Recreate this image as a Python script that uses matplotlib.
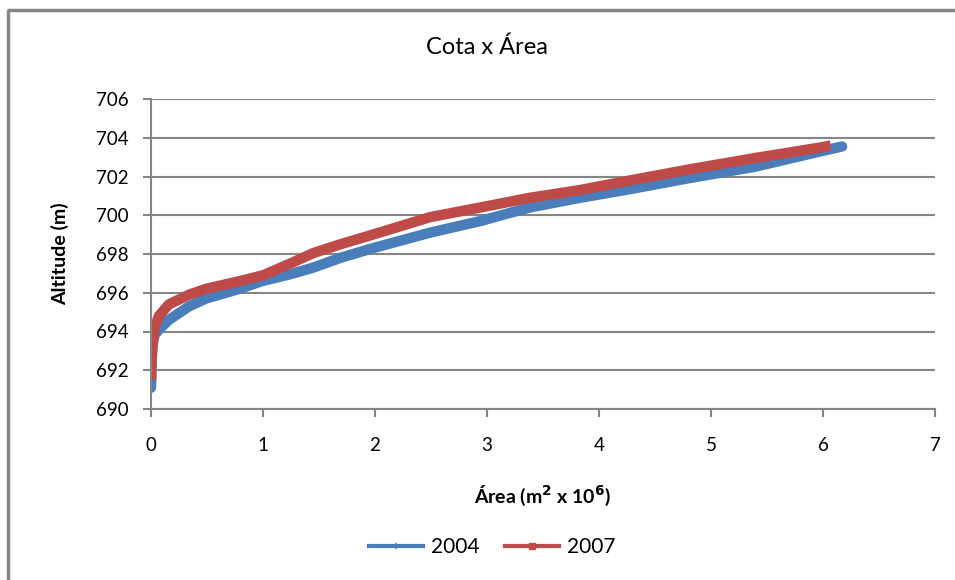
import matplotlib.pyplot as plt
from matplotlib.lines import Line2D

# area (m2 x 10^6) vs altitude (m), surveys of 2004 and 2007
area_2004 = [0, 0.005, 0.01, 0.03, 0.07, 0.16, 0.34, 0.49, 0.79, 0.99, 1.24, 1.45,
             1.69, 1.98, 2.49, 2.94, 3.38, 3.83, 4.28, 4.79, 5.39, 5.98, 6.17]
alt_2004 = [691.1, 692.2, 693.2, 693.8, 694.1, 694.6, 695.3, 695.7, 696.2, 696.6, 696.95, 697.3,
            697.8, 698.3, 699.1, 699.7, 700.4, 700.9, 701.35, 701.9, 702.5, 703.3, 703.55]
area_2007 = [0, 0.005, 0.015, 0.03, 0.07, 0.16, 0.34, 0.49, 0.79, 1.0, 1.24, 1.45,
             1.69, 1.98, 2.49, 2.94, 3.38, 3.83, 4.28, 4.79, 5.39, 5.98, 6.07]
alt_2007 = [691.5, 692.5, 693.3, 694.1, 694.8, 695.4, 695.9, 696.2, 696.6, 696.9, 697.5, 698.05,
            698.5, 699.0, 699.9, 700.4, 700.9, 701.3, 701.8, 702.35, 702.95, 703.5, 703.6]
xticks = list(range(0, 8))
yticks = list(range(690, 707, 2))

blue = '#4A7EBB'
red = '#BE4B48'
grey = '#868686'

plt.rcParams['font.family'] = ['Lato', 'DejaVu Sans']

fig = plt.figure(figsize=(9.55, 5.8), dpi=100)
ax = fig.add_axes([151 / 955, 1 - 409 / 580, (935 - 151) / 955, (409 - 99) / 580])

ax.plot(area_2004, alt_2004, color=blue, lw=7.5, solid_capstyle='round')
ax.plot(area_2007, alt_2007, color=red, lw=7.5, solid_capstyle='butt')

ax.set_xlim(0, 7)
ax.set_ylim(690, 706)
ax.set_xticks(xticks)
ax.set_yticks(yticks)
ax.grid(axis='y', color=grey, lw=1.5)
ax.set_axisbelow(True)
for s in ['top', 'right']:
    ax.spines[s].set_visible(False)
for s in ['left', 'bottom']:
    ax.spines[s].set_color(grey)
    ax.spines[s].set_linewidth(1.5)
ax.tick_params(axis='both', colors=grey, labelcolor='black', labelsize=13.5,
               width=1.5, length=6)
ax.tick_params(axis='x', pad=14)
ax.tick_params(axis='y', pad=10)

fig.text(487 / 955, 1 - 47 / 580, 'Cota x Área', ha='center', va='center', fontsize=17)
fig.text(60 / 955, 1 - 254 / 580, 'Altitude (m)', ha='center', va='center',
         rotation=90, fontsize=14, fontweight='bold')
fig.text(543 / 955, 1 - 496 / 580, 'Área (m$^\\mathbf{2}$ x 10$^\\mathbf{6}$)',
         ha='center', va='center', fontsize=14, fontweight='bold')

handles = [Line2D([], [], color=blue, lw=3, marker='+', ms=4, mew=1.2),
           Line2D([], [], color=red, lw=3, marker='s', ms=5)]
fig.legend(handles, ['2004', '2007'], loc='center', bbox_to_anchor=(492 / 955, 1 - 547 / 580),
           ncol=2, frameon=False, fontsize=15, handlelength=2.6, handletextpad=0.4,
           columnspacing=1.2)

# outer chart border: only the left and top edges fall inside the image
x0, y0 = 8 / 955, 1 - 10 / 580
fig.add_artist(Line2D([x0, x0], [0, y0], transform=fig.transFigure, color=grey, lw=2.5,
                      solid_capstyle='butt'))
fig.add_artist(Line2D([x0 - 1 / 955, 1], [y0, y0], transform=fig.transFigure, color=grey,
                      lw=2.5, solid_capstyle='butt'))

fig.savefig('out.png', dpi=100)
